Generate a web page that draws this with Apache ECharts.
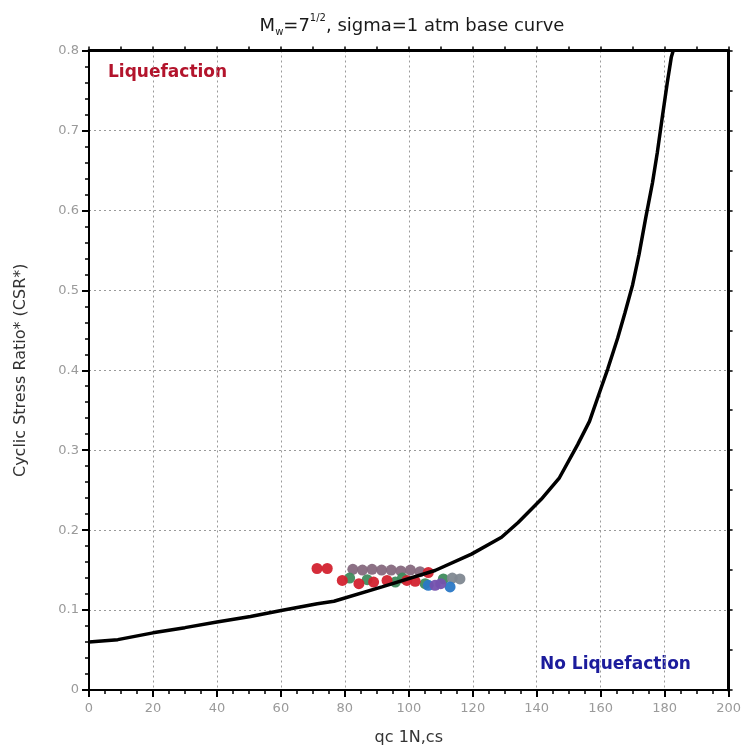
<!DOCTYPE html>
<html>
<head>
<meta charset="utf-8">
<script src="https://cdn.jsdelivr.net/npm/echarts@6/dist/echarts.min.js"></script>
<style>html,body{margin:0;padding:0;background:#fff;}#c{width:744px;height:751px;}</style>
</head>
<body>
<div id="c"></div>
<script>
// Base curve (qc1N,cs vs CRR)
var curveQ   = [0, 9, 20, 30, 40, 50.5, 60.5, 71.4, 76.6, 91.6, 108.2, 119.6, 129, 134.2, 141.4, 147.1, 152.8, 156.5, 160.1, 162.2, 165.3, 167.6, 170, 172, 174.1, 176.2, 177.7, 179.3, 180.8, 182.1, 182.7];
var curveCSR = [0.060, 0.063, 0.0715, 0.078, 0.085, 0.092, 0.0998, 0.108, 0.111, 0.129, 0.1495, 0.170, 0.191, 0.2096, 0.2386, 0.2655, 0.307, 0.336, 0.3775, 0.4015, 0.44, 0.472, 0.507, 0.545, 0.591, 0.6346, 0.672, 0.7174, 0.759, 0.792, 0.8];

// Scatter points grouped by colour
var redQ    = [71.3, 74.5, 79.2, 84.4, 89, 93.2, 99.4, 102, 106.1];
var redCSR  = [0.152, 0.152, 0.137, 0.133, 0.135, 0.137, 0.137, 0.136, 0.147];
var mauveQ   = [82.5, 85.5, 88.5, 91.5, 94.5, 97.5, 100.5, 103.5];
var mauveCSR = [0.151, 0.150, 0.151, 0.150, 0.150, 0.149, 0.150, 0.148];
var greenQ   = [81.5, 87, 95.8, 98, 105.1, 110.8];
var greenCSR = [0.140, 0.138, 0.135, 0.140, 0.133, 0.139];
var blueQ    = [106.1, 112.9];
var blueCSR  = [0.131, 0.129];
var purpleQ  = [108.2, 110];
var purpleCSR= [0.131, 0.133];
var grayQ    = [113.6, 116];
var grayCSR  = [0.140, 0.139];

// Axis ticks
var xMin = 0, xMax = 200, xStep = 20;
var yMin = 0, yMax = 0.8, yStep = 0.1;

function pairs(a, b) { return a.map(function (v, i) { return [v, b[i]]; }); }

var chart = echarts.init(document.getElementById('c'));
var gridLine = { show: true, lineStyle: { color: '#9a9a9a', type: [2, 3], width: 1 } };
var labelStyle = { color: '#9a9a9a', fontSize: 13, fontFamily: 'DejaVu Sans' };

function sc(name, q, c, color) {
  return {
    name: name, type: 'scatter', data: pairs(q, c), symbol: 'circle', symbolSize: 11,
    itemStyle: { color: color, opacity: 0.95 }, z: 3
  };
}

chart.setOption({
  animation: false,
  backgroundColor: '#ffffff',
  title: {
    text: '{n|M}{s|w}{n|=7}{p|1/2}{n|, sigma=1 atm base curve}',
    left: 407, top: 8, textAlign: 'center',
    textStyle: {
      fontWeight: 'normal',
      rich: {
        n: { fontSize: 18, fontWeight: 'normal', fontFamily: 'DejaVu Sans', color: '#1a1a1a', lineHeight: 22, verticalAlign: 'bottom' },
        s: { fontSize: 10, fontWeight: 'normal', fontFamily: 'DejaVu Sans', color: '#1a1a1a', verticalAlign: 'bottom', lineHeight: 22, padding: [0, 0, -2, 0] },
        p: { fontSize: 10, fontWeight: 'normal', fontFamily: 'DejaVu Sans', color: '#1a1a1a', verticalAlign: 'top', lineHeight: 22 }
      }
    }
  },
  grid: { left: 89, right: 12.5, top: 50.5, bottom: 57.5 },
  xAxis: [{
    type: 'value', min: xMin, max: xMax, interval: xStep,
    name: 'qc 1N,cs', nameLocation: 'middle', nameGap: 40,
    nameTextStyle: { fontSize: 16, color: '#333', fontFamily: 'DejaVu Sans' },
    axisLine: { show: true, onZero: false, lineStyle: { color: '#000', width: 2 } },
    axisTick: { show: true, inside: false, length: 7, lineStyle: { color: '#000', width: 2 } },
    minorTick: { show: true, splitNumber: 4, length: 4, lineStyle: { color: '#000', width: 1.5 } },
    axisLabel: Object.assign({ margin: 12 }, labelStyle),
    splitLine: gridLine
  }, {
    type: 'value', min: xMin, max: xMax, interval: 10, position: 'top',
    axisLine: { show: true, onZero: false, lineStyle: { color: '#000', width: 3 } },
    axisTick: { show: true, length: 4, lineStyle: { color: '#000', width: 1.5 } },
    axisLabel: { show: false }, splitLine: { show: false }
  }],
  yAxis: [{
    type: 'value', min: yMin, max: yMax, interval: yStep,
    name: 'Cyclic Stress Ratio* (CSR*)', nameLocation: 'middle', nameGap: 60,
    nameTextStyle: { fontSize: 16, color: '#333', fontFamily: 'DejaVu Sans' },
    axisLine: { show: true, onZero: false, lineStyle: { color: '#000', width: 2 } },
    axisTick: { show: true, inside: false, length: 7, lineStyle: { color: '#000', width: 2 } },
    minorTick: { show: true, splitNumber: 5, length: 4, lineStyle: { color: '#000', width: 1.5 } },
    axisLabel: Object.assign({ margin: 10, formatter: function (v) { return String(+v.toFixed(1)); } }, labelStyle),
    splitLine: gridLine
  }, {
    type: 'value', min: yMin, max: yMax, interval: 0.05, position: 'right',
    axisLine: { show: true, onZero: false, lineStyle: { color: '#000', width: 3 } },
    axisTick: { show: true, length: 4, lineStyle: { color: '#000', width: 1.5 } },
    axisLabel: { show: false }, splitLine: { show: false }
  }],
  graphic: [
    { type: 'text', left: 108, top: 64, style: { text: 'Liquefaction', fill: '#b3142c', font: 'bold 17px "DejaVu Sans"' } },
    { type: 'text', left: 540, top: 656, style: { text: 'No Liquefaction', fill: '#1c1c9c', font: 'bold 17px "DejaVu Sans"' } }
  ],
  series: [
    {
      name: 'curve', type: 'line', data: pairs(curveQ, curveCSR), showSymbol: false, symbol: 'none',
      lineStyle: { color: '#000', width: 3.5 }, z: 4, clip: true
    },
    sc('mauve', mauveQ, mauveCSR, '#86697e'),
    sc('green', greenQ, greenCSR, '#3f8b5d'),
    sc('gray', grayQ, grayCSR, '#7f8891'),
    sc('red', redQ, redCSR, '#d3222f'),
    sc('blue', blueQ, blueCSR, '#2a78c6'),
    sc('purple', purpleQ, purpleCSR, '#7552ae')
  ]
});
</script>
</body>
</html>
